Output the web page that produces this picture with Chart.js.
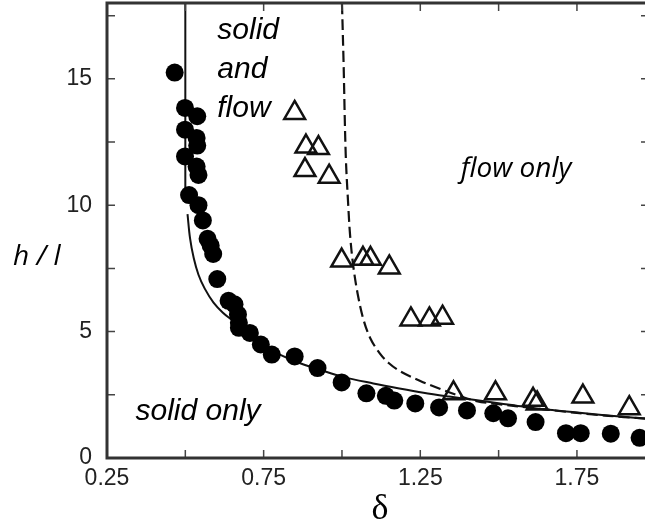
<!DOCTYPE html>
<html>
<head>
<meta charset="utf-8">
<script src="https://cdn.jsdelivr.net/npm/chart.js@4/dist/chart.umd.min.js"></script>
<style>
  html, body { margin: 0; padding: 0; background: #fff; }
  #wrap { width: 645px; height: 527px; overflow: hidden; }
</style>
</head>
<body>
<div id="wrap"><canvas id="phaseChart" width="670" height="527"></canvas></div>
<script>
// solid-only runs (filled circles)
const solidX = [0.466, 0.499, 0.538, 0.499, 0.536, 0.538, 0.499, 0.536, 0.542, 0.512,
  0.542, 0.556, 0.571, 0.581, 0.589, 0.602, 0.638, 0.657, 0.668, 0.671,
  0.671, 0.706, 0.741, 0.776, 0.849, 0.922, 0.999, 1.078, 1.14, 1.167,
  1.234, 1.31, 1.399, 1.483, 1.53, 1.618, 1.715, 1.762, 1.858, 1.95];
const solidY = [15.25, 13.85, 13.52, 12.99, 12.66, 12.36, 11.93, 11.53, 11.2, 10.4,
  10.0, 9.4, 8.67, 8.4, 8.07, 7.08, 6.22, 6.08, 5.68, 5.35,
  5.15, 4.95, 4.49, 4.09, 4.02, 3.56, 2.99, 2.56, 2.46, 2.27,
  2.16, 2.0, 1.88, 1.77, 1.57, 1.42, 0.98, 0.98, 0.96, 0.8];

// flow runs (open triangles)
const flowX = [0.849, 0.885, 0.925, 0.882, 0.959, 0.999, 1.067, 1.091, 1.151,
  1.22, 1.279, 1.321, 1.356, 1.49, 1.61, 1.623, 1.769, 1.917];
const flowY = [13.65, 12.32, 12.26, 11.39, 11.13, 7.81, 7.88, 7.88, 7.54,
  5.48, 5.48, 5.55, 2.56, 2.56, 2.3, 2.16, 2.43, 1.97];

// solid boundary: vertical part, then curve
const solidEdgeX = [0.5, 0.5];
const solidEdgeY = [18, 10.1];
const solidCurveX = [0.507, 0.515, 0.527, 0.542, 0.562, 0.59, 0.62, 0.65, 0.70, 0.75, 0.80, 0.86,
  0.935, 1.0, 1.1, 1.183, 1.26, 1.342, 1.42, 1.5, 1.58, 1.66, 1.75, 1.83, 1.906, 1.98];
const solidCurveY = [9.65, 8.7, 7.9, 7.25, 6.7, 6.15, 5.75, 5.45, 4.95, 4.45, 4.1, 3.78,
  3.47, 3.22, 2.95, 2.75, 2.58, 2.43, 2.3, 2.17, 2.03, 1.91, 1.8, 1.7, 1.62, 1.55];

// flow boundary (dashed)
const flowEdgeX = [1.0, 1.005, 1.012, 1.02, 1.026, 1.036, 1.05, 1.068, 1.09, 1.12,
  1.15, 1.19, 1.25, 1.31, 1.37, 1.43, 1.5, 1.607, 1.7, 1.8, 1.9, 1.98];
const flowEdgeY = [18, 15.7, 12.0, 10.0, 8.8, 7.6, 6.5, 5.5, 4.75, 4.15,
  3.75, 3.4, 3.05, 2.75, 2.48, 2.25, 2.13, 1.98, 1.85, 1.72, 1.62, 1.55];

const xTickValues = [0.25, 0.5, 0.75, 1.0, 1.25, 1.5, 1.75];
const xTickLabels = ['0.25', '', '0.75', '', '1.25', '', '1.75'];
const yTickValues = [0, 2.5, 5, 7.5, 10, 12.5, 15, 17.5];
const yTickLabels = ['0', '', '5', '', '10', '', '15', ''];

const regionLabels = [
  { text: 'solid', x: 0.602, y: 16.58, font: 'italic 30px "Liberation Sans", Arial, sans-serif' },
  { text: 'and', x: 0.602, y: 15.04, font: 'italic 30px "Liberation Sans", Arial, sans-serif' },
  { text: 'flow', x: 0.602, y: 13.5, font: 'italic 30px "Liberation Sans", Arial, sans-serif' },
  { text: 'solid only', x: 0.341, y: 1.5, font: 'italic 30px "Liberation Sans", Arial, sans-serif' },
  { text: 'flow only', x: 1.379, y: 11.12, font: 'italic 28px "Open Sans", "Noto Sans", sans-serif' }
];

const pts = (xs, ys) => xs.map((x, i) => ({ x: x, y: ys[i] }));

const framePlugin = {
  id: 'frame',
  afterDatasetsDraw(chart) {
    const { ctx, chartArea: a, scales } = chart;
    ctx.save();
    ctx.strokeStyle = '#444';
    ctx.lineWidth = 1.5;
    ctx.beginPath();
    scales.x.ticks.forEach(t => {
      const px = scales.x.getPixelForValue(t.value);
      ctx.moveTo(px, a.bottom); ctx.lineTo(px, a.bottom - 8);
      ctx.moveTo(px, a.top); ctx.lineTo(px, a.top + 8);
    });
    scales.y.ticks.forEach(t => {
      const py = scales.y.getPixelForValue(t.value);
      ctx.moveTo(a.left, py); ctx.lineTo(a.left + 8, py);
      ctx.moveTo(a.right, py); ctx.lineTo(a.right - 8, py);
    });
    ctx.stroke();
    ctx.strokeStyle = '#333';
    ctx.lineWidth = 3;
    ctx.strokeRect(a.left, a.top, a.right - a.left, a.bottom - a.top);

    ctx.fillStyle = '#000';
    ctx.textBaseline = 'alphabetic';
    ctx.textAlign = 'left';
    regionLabels.forEach(l => {
      ctx.font = l.font;
      ctx.fillText(l.text, scales.x.getPixelForValue(l.x), scales.y.getPixelForValue(l.y));
    });
    ctx.font = 'italic 28px "Open Sans", "Noto Sans", sans-serif';
    ctx.fillText('h / l', 13, 265);
    ctx.textAlign = 'center';
    ctx.font = '36px "Liberation Serif", "DejaVu Serif", serif';
    ctx.fillText('δ', 380, 519);
    ctx.restore();
  }
};

new Chart(document.getElementById('phaseChart'), {
  type: 'scatter',
  data: {
    datasets: [
      {
        label: 'solid only',
        data: pts(solidX, solidY),
        pointStyle: 'circle',
        pointRadius: 9,
        pointBackgroundColor: '#000',
        pointBorderColor: '#000',
        pointBorderWidth: 0
      },
      {
        label: 'flow',
        data: pts(flowX, flowY),
        pointStyle: 'triangle',
        pointRadius: 12,
        pointBackgroundColor: 'rgba(255,255,255,0)',
        pointBorderColor: '#111',
        pointBorderWidth: 2.5
      },
      {
        label: 'solid edge',
        data: pts(solidEdgeX, solidEdgeY),
        showLine: true,
        pointRadius: 0,
        borderColor: '#111',
        borderWidth: 2
      },
      {
        label: 'solid curve',
        data: pts(solidCurveX, solidCurveY),
        showLine: true,
        tension: 0.35,
        pointRadius: 0,
        borderColor: '#111',
        borderWidth: 2
      },
      {
        label: 'flow edge',
        data: pts(flowEdgeX, flowEdgeY),
        showLine: true,
        tension: 0.35,
        pointRadius: 0,
        borderColor: '#111',
        borderWidth: 2.2,
        borderDash: [11, 5]
      }
    ]
  },
  options: {
    responsive: false,
    animation: false,
    layout: { autoPadding: false, padding: { top: 3, right: 21, left: 0, bottom: 0 } },
    plugins: { legend: { display: false }, tooltip: { enabled: false } },
    scales: {
      x: {
        type: 'linear',
        min: 0.25,
        max: 1.98,
        grid: { display: false, drawTicks: false },
        border: { display: false },
        afterBuildTicks: axis => { axis.ticks = xTickValues.map(v => ({ value: v })); },
        afterFit: axis => {
          axis.height = 69;
          axis.paddingLeft = 0;
          axis.paddingRight = 0;
        },
        ticks: {
          autoSkip: false,
          maxRotation: 0,
          padding: 7,
          color: '#222',
          font: { family: '"Liberation Sans", Arial, sans-serif', size: 23 },
          callback: (v, i) => xTickLabels[i]
        }
      },
      y: {
        type: 'linear',
        min: 0,
        max: 18,
        grid: { display: false, drawTicks: false },
        border: { display: false },
        afterBuildTicks: axis => { axis.ticks = yTickValues.map(v => ({ value: v })); },
        afterFit: axis => {
          axis.width = 107;
          axis.paddingTop = 0;
          axis.paddingBottom = 0;
        },
        ticks: {
          autoSkip: false,
          padding: 15,
          color: '#222',
          font: { family: '"Liberation Sans", Arial, sans-serif', size: 23 },
          callback: (v, i) => yTickLabels[i]
        }
      }
    }
  },
  plugins: [framePlugin]
});
</script>
</body>
</html>
